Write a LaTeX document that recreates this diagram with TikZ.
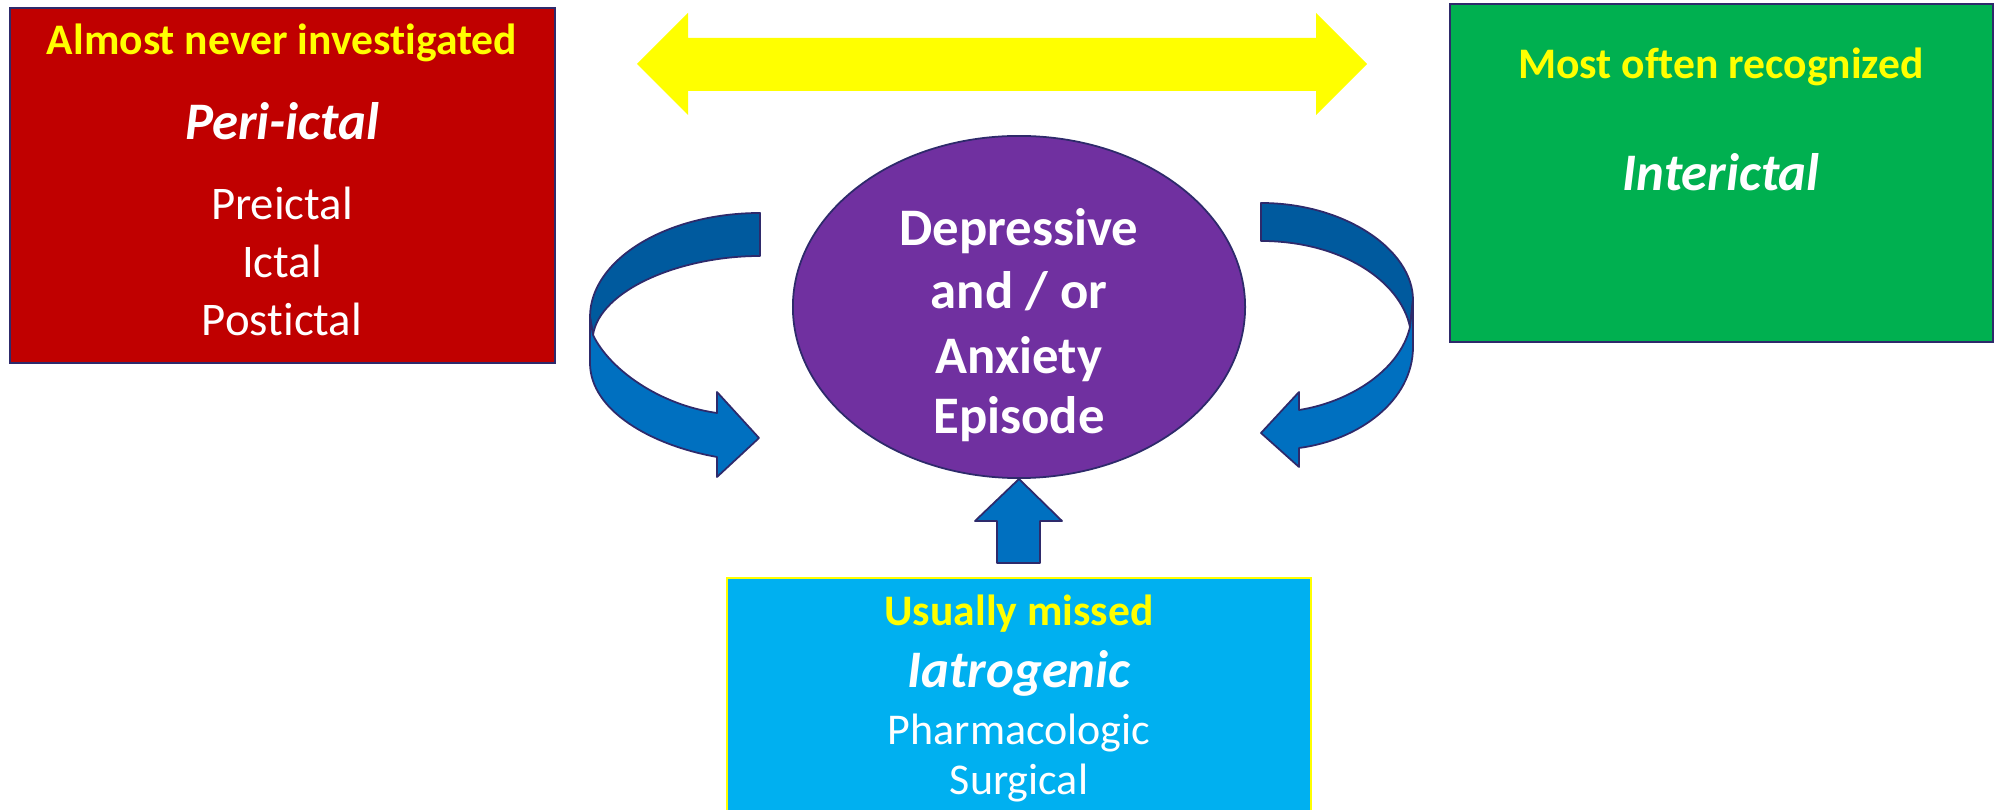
\documentclass[tikz,border=0pt]{standalone}
\usepackage{fontspec}
\setmainfont{Carlito}[Ligatures=NoCommon]
\usetikzlibrary{shapes.geometric}

\definecolor{boxred}{HTML}{C00000}
\definecolor{boxgreen}{HTML}{00B050}
\definecolor{boxcyan}{HTML}{00B0F0}
\definecolor{hiyellow}{HTML}{FFFF00}
\definecolor{ovalpurple}{HTML}{7030A0}
\definecolor{arrowblue}{HTML}{0070C0}
\definecolor{arrowdark}{HTML}{005A9E}
\definecolor{edgeline}{HTML}{2E2A6B}

\tikzset{
  panel/.style={rectangle, draw=edgeline, line width=0.5pt, inner sep=0pt, outer sep=0pt},
  headtext/.style={text=hiyellow, anchor=base, inner sep=0pt, font=\fontsize{12.4}{14}\selectfont\bfseries},
  titletext/.style={text=white, anchor=base, inner sep=0pt, font=\fontsize{15}{18}\selectfont\bfseries\itshape},
  bodytext/.style={text=white, anchor=base, inner sep=0pt, font=\fontsize{13.3}{16}\selectfont},
  bodysmall/.style={text=white, anchor=base, inner sep=0pt, font=\fontsize{12.5}{15}\selectfont},
  ovaltext/.style={text=white, anchor=base, inner sep=0pt, font=\fontsize{15}{18}\selectfont\bfseries},
  backband/.style={fill=arrowdark, draw=edgeline, line width=0.5pt, line join=round},
  frontband/.style={fill=arrowblue, draw=edgeline, line width=0.5pt, line join=round},
}

\begin{document}
\begin{tikzpicture}[x=0.01cm, y=-0.01cm]
\useasboundingbox (0,0) rectangle (1999,810);

% --- Peri-ictal panel ---
\node (peri) [panel, fill=boxred, minimum width=5.45cm, minimum height=3.55cm] at (282.5,185.5) {};
\node (periHead) [headtext] at (282,55) {Almost never investigated};
\node (periTitle) [titletext] at (282,140) {Peri-ictal};
\node (pre) [bodytext] at (282,220) {Preictal};
\node (ict) [bodytext] at (282,278) {Ictal};
\node (post) [bodytext] at (282,336) {Postictal};

% --- Interictal panel ---
\node (inter) [panel, fill=boxgreen, minimum width=5.43cm, minimum height=3.38cm] at (1721.5,173) {};
\node (interHead) [headtext] at (1721,79) {Most often recognized};
\node (interTitle) [titletext] at (1721,191) {Interictal};

% --- Iatrogenic panel ---
\node (iatro) [panel, draw=hiyellow, fill=boxcyan, minimum width=5.84cm, minimum height=2.40cm] at (1019,698) {};
\node (iatroHead) [headtext] at (1019,626) {Usually missed};
\node (iatroTitle) [titletext] at (1019,688) {Iatrogenic};
\node (pharm) [bodysmall] at (1019,745) {Pharmacologic};
\node (surg) [bodysmall] at (1019,795) {Surgical};

% --- central episode ---
\node (oval) [ellipse, draw=edgeline, line width=0.5pt, fill=ovalpurple, inner sep=0pt,
  minimum width=4.52cm, minimum height=3.42cm] at (1019,307) {};
\node (dep) [ovaltext] at (1019,246) {Depressive};
\node (andor) [ovaltext] at (1019,309) {and / or};
\node (anx) [ovaltext] at (1019,374) {Anxiety};
\node (epi) [ovaltext] at (1019,434) {Episode};

% --- double-headed yellow arrow ---
\fill[hiyellow] (637,64) -- (688,13) -- (688,38) -- (1316,38) -- (1316,13) -- (1367,64)
  -- (1316,115) -- (1316,91) -- (688,91) -- (688,115) -- cycle;

% --- left curved arrow ---
\filldraw[backband] (760,213) .. controls (666,213) and (590,260) .. (590,317)
  -- (593,335) .. controls (600,290) and (680,256) .. (760,256) -- cycle;
\filldraw[frontband] (590,317) -- (590,363) .. controls (590,410) and (650,445) .. (717,457)
  -- (717,477) -- (759,438) -- (717,392) -- (717,413)
  .. controls (660,405) and (610,370) .. (593,335) -- cycle;

% --- right curved arrow ---
\filldraw[backband] (1261,203) .. controls (1345,203) and (1413,250) .. (1413,300)
  -- (1410,327) .. controls (1400,280) and (1340,241) .. (1261,241) -- cycle;
\filldraw[frontband] (1413,300) -- (1413,347) .. controls (1413,400) and (1360,440) .. (1299,448)
  -- (1299,467) -- (1261,433) -- (1299,392) -- (1299,410)
  .. controls (1350,402) and (1400,370) .. (1410,327) -- cycle;

% --- upward arrow into the episode ---
\filldraw[frontband] (oval.south) -- ++(43,42) -- ++(-22,0) -- ++(0,42) -- ++(-43,0)
  -- ++(0,-42) -- ++(-22,0) -- cycle;
\end{tikzpicture}
\end{document}
